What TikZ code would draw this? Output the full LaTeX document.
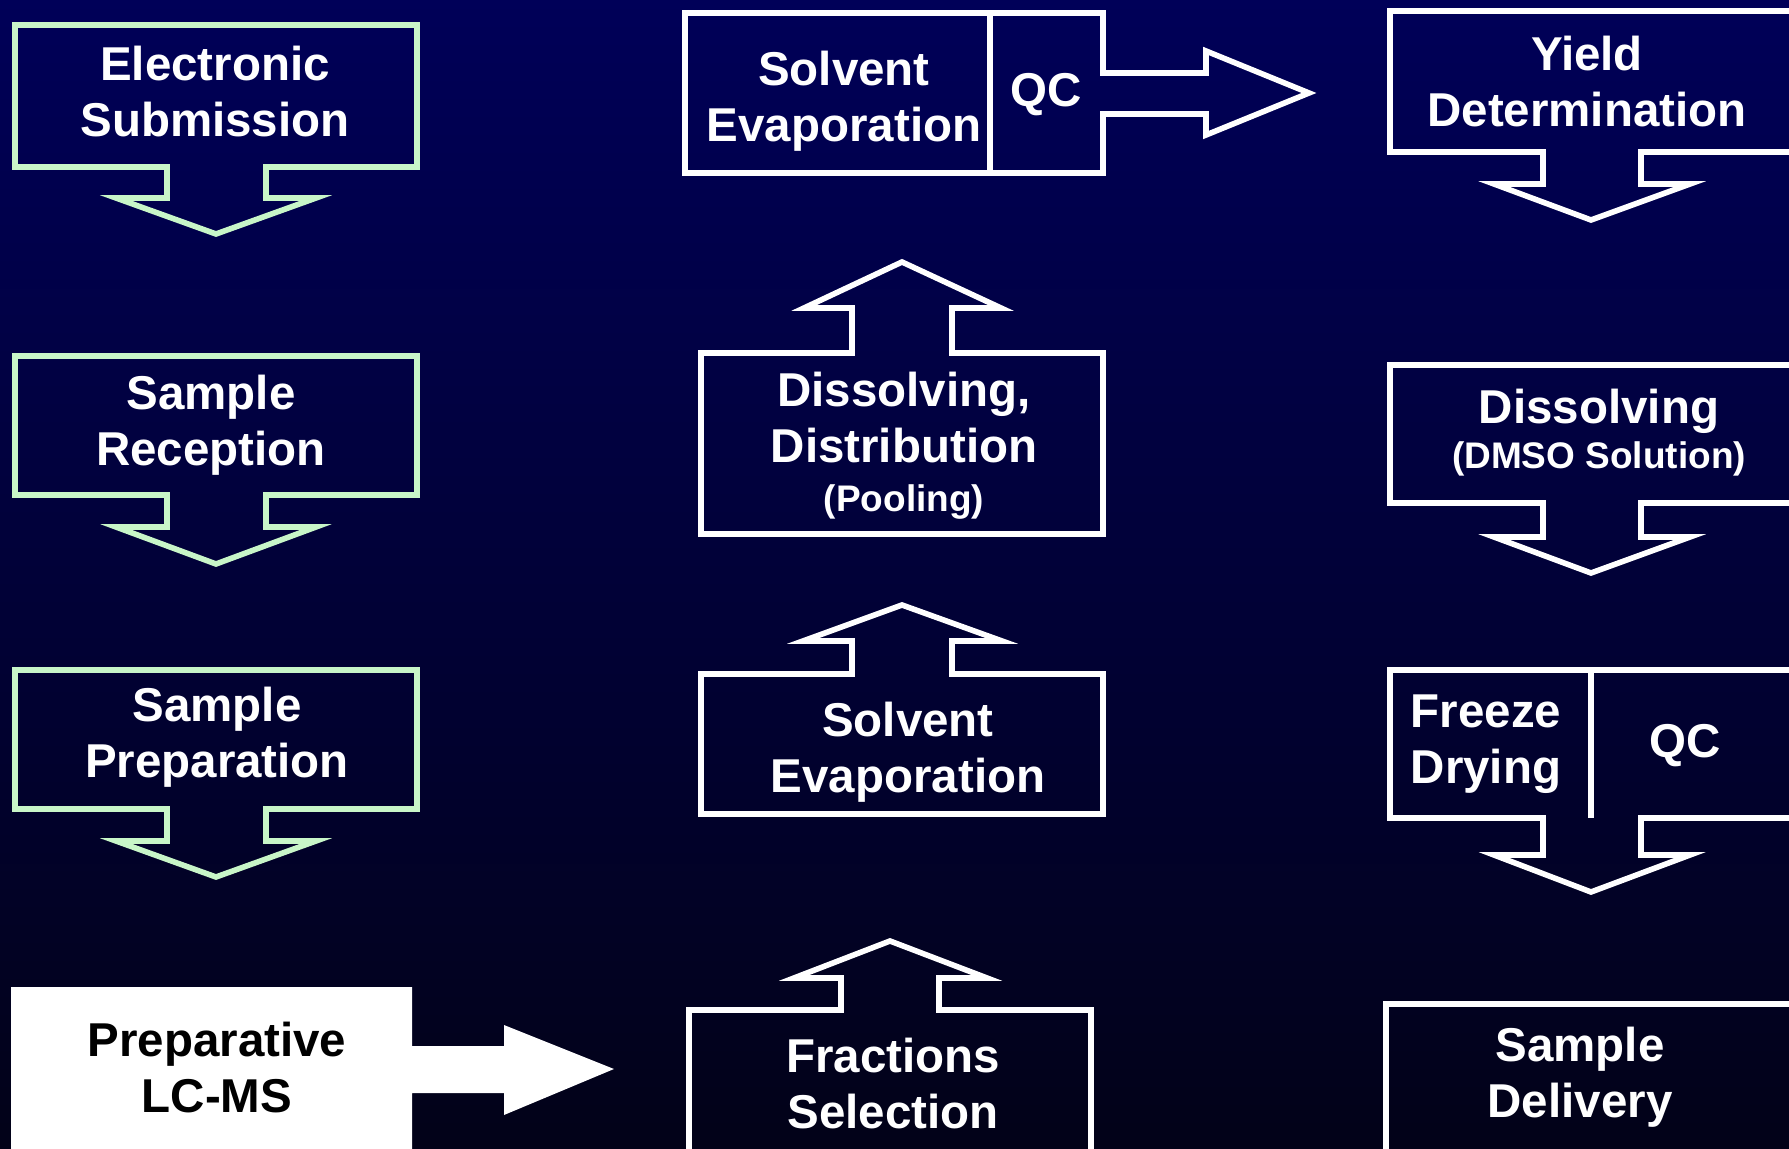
\documentclass[tikz,border=0pt]{standalone}
\usepackage{fontspec}
\setmainfont{Liberation Sans}
\definecolor{bgtop}{RGB}{0,0,88}
\definecolor{bgbot}{RGB}{2,2,24}
\definecolor{mint}{RGB}{200,246,200}
\begin{document}
\begin{tikzpicture}[x=0.5pt,y=-0.5pt,
  lbl/.style={text=white,font=\bfseries\fontsize{23.75}{28}\selectfont,align=center,inner sep=0pt},
  sub/.style={text=white,font=\bfseries\fontsize{18.5}{22}\selectfont,inner sep=0pt},
  flow/.style={draw=white,line width=2.8pt},
  inflow/.style={draw=mint,line width=2.8pt}]

% canvas and background
\useasboundingbox (0,0) rectangle (1789,1149);
\clip (0,0) rectangle (1789,1149);
\shade[top color=bgtop,bottom color=bgbot] (0,0) rectangle (1789,1149);

% ---- left column: intake steps ----
\draw[inflow] (15,25) -- (417,25) -- (417,167) -- (266,167) -- (266,198) -- (316,198)
  -- (216,234) -- (116,198) -- (167,198) -- (167,167) -- (15,167) -- cycle;
\draw[inflow] (15,356) -- (417,356) -- (417,495) -- (266,495) -- (266,527) -- (316,527)
  -- (216,564) -- (116,527) -- (167,527) -- (167,495) -- (15,495) -- cycle;
\draw[inflow] (15,670) -- (417,670) -- (417,809) -- (266,809) -- (266,841) -- (316,841)
  -- (216,877) -- (116,841) -- (167,841) -- (167,809) -- (15,809) -- cycle;
\fill[white] (11,987) -- (412,987) -- (412,1046) -- (504,1046) -- (504,1025) -- (614,1069)
  -- (504,1115) -- (504,1093) -- (412,1093) -- (412,1160) -- (11,1160) -- cycle;

\node[lbl] (es) at (215,92) {Electronic\\Submission};
\node[lbl] (sr) at (211,425) {Sample\\Reception};
\node[lbl] (sp) at (217,737) {Sample\\Preparation};
\node[lbl,text=black] (lc) at (217,1068) {Preparative\\LC-MS};

% ---- middle column: work-up steps ----
\draw[flow] (685,13) -- (1103,13) -- (1103,73) -- (1206,73) -- (1206,51) -- (1309,93)
  -- (1206,135) -- (1206,114) -- (1103,114) -- (1103,173) -- (685,173) -- cycle;
\draw[flow] (990,13) -- (990,173);
\draw[flow] (701,353) -- (852,353) -- (852,308) -- (804,308) -- (902,262) -- (1001,308)
  -- (952,308) -- (952,353) -- (1103,353) -- (1103,534) -- (701,534) -- cycle;
\draw[flow] (701,674) -- (852,674) -- (852,641) -- (803,641) -- (902,605) -- (1002,641)
  -- (952,641) -- (952,674) -- (1103,674) -- (1103,814) -- (701,814) -- cycle;
\draw[flow] (689,1010) -- (841,1010) -- (841,978) -- (794,978) -- (890,941) -- (987,978)
  -- (939,978) -- (939,1010) -- (1091,1010) -- (1091,1160) -- (689,1160) -- cycle;

\node[lbl] (se1) at (844,101) {Solvent\\Evaporation};
\node[lbl] (qc1) at (1046,95) {QC};
\node[lbl] (dd) at (904,418) {Dissolving,\\Distribution};
\node[sub] (pool) at (904,502) {(Pooling)};
\node[lbl] (se2) at (908,752) {Solvent\\Evaporation};
\node[lbl] (fs) at (893,1084) {Fractions\\Selection};

% ---- right column: finishing steps ----
\draw[flow] (1800,11) -- (1390,11) -- (1390,152) -- (1543,152) -- (1543,184) -- (1494,184)
  -- (1591,220) -- (1690,184) -- (1641,184) -- (1641,152) -- (1800,152);
\draw[flow] (1800,365) -- (1390,365) -- (1390,503) -- (1543,503) -- (1543,537) -- (1494,537)
  -- (1591,573) -- (1690,537) -- (1641,537) -- (1641,503) -- (1800,503);
\draw[flow] (1800,670) -- (1390,670) -- (1390,818) -- (1543,818) -- (1543,855) -- (1494,855)
  -- (1591,892) -- (1690,855) -- (1641,855) -- (1641,818) -- (1800,818);
\draw[flow] (1591,670) -- (1591,818);
\draw[flow] (1800,1004) -- (1386,1004) -- (1386,1160);

\node[lbl] (yd) at (1587,82) {Yield\\Determination};
\node[lbl] (dm) at (1599,411) {Dissolving};
\node[sub] (dmso) at (1599,459) {(DMSO Solution)};
\node[lbl] (fd) at (1486,744) {Freeze\\Drying};
\node[lbl] (qc2) at (1685,746) {QC};
\node[lbl] (sd) at (1580,1077) {Sample\\Delivery};
\end{tikzpicture}
\end{document}
